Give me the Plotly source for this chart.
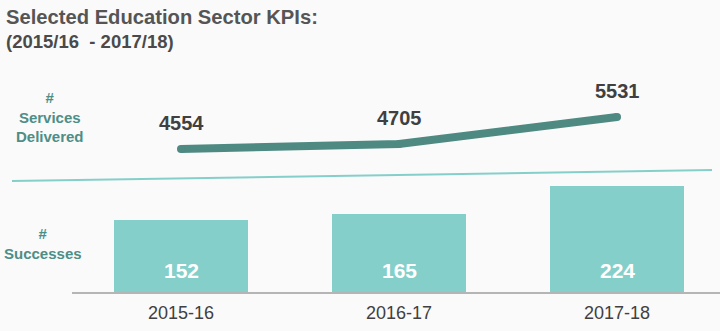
import plotly.graph_objects as go

categories = ["2015-16", "2016-17", "2017-18"]
services = [4554, 4705, 5531]
successes = [152, 165, 224]

BG = "#fafafa"
BAR = "#85cfca"
LINE = "#4e8a82"
LABEL = "#4d8e87"
DARK = "#404040"
FONT = "Liberation Sans, Arial, sans-serif"

fig = go.Figure()

fig.add_trace(go.Bar(
    x=categories, y=successes, width=0.615,
    marker=dict(color=BAR, line=dict(width=0)),
    hoverinfo="skip", showlegend=False,
))

fig.add_trace(go.Scatter(
    x=categories, y=services, yaxis="y2", mode="lines+markers",
    line=dict(color=LINE, width=8),
    marker=dict(color=LINE, size=8),
    hoverinfo="skip", showlegend=False,
))

annotations = []
for c, v in zip(categories, successes):
    annotations.append(dict(x=c, y=0, xref="x", yref="y", text=f"<b>{v}</b>",
                            showarrow=False, yanchor="middle", yshift=22,
                            font=dict(family=FONT, size=21, color="#ffffff")))
for c, v in zip(categories, services):
    annotations.append(dict(x=c, y=v, xref="x", yref="y2", text=f"<b>{v}</b>",
                            showarrow=False, yanchor="middle", yshift=26,
                            font=dict(family=FONT, size=20, color=DARK)))

W_PLOT = 648.0
H_PLOT = 292.0
L = 72

def px(x):
    return (x - L) / W_PLOT

def py(y):
    return (H_PLOT - y) / H_PLOT

annotations += [
    dict(x=px(4), y=py(17), xref="paper", yref="paper", xanchor="left", yanchor="middle",
         text="<b>Selected Education Sector KPIs:</b>", showarrow=False,
         font=dict(family=FONT, size=20.2, color="#555555")),
    dict(x=px(4), y=py(41), xref="paper", yref="paper", xanchor="left", yanchor="middle",
         text="<b>(2015/16  - 2017/18)</b>", showarrow=False,
         font=dict(family=FONT, size=18.5, color="#4a4a4a")),
    dict(x=px(50), y=py(117), xref="paper", yref="paper", xanchor="center", yanchor="middle",
         text="<b>#<br>Services<br>Delivered</b>", showarrow=False, align="center",
         font=dict(family=FONT, size=15, color=LABEL)),
    dict(x=px(43), y=py(243), xref="paper", yref="paper", xanchor="center", yanchor="middle",
         text="<b>#<br>Successes</b>", showarrow=False, align="center",
         font=dict(family=FONT, size=15, color=LABEL)),
]

fig.update_layout(
    width=720, height=331,
    margin=dict(l=L, r=0, t=0, b=39),
    paper_bgcolor=BG, plot_bgcolor=BG,
    font=dict(family=FONT, color=DARK),
    xaxis=dict(type="category", range=[-0.5, 2.4725], showgrid=False, zeroline=False,
               showline=True, linecolor="#b5b5b5", linewidth=2,
               ticks="outside", ticklen=3, tickcolor="rgba(0,0,0,0)",
               tickfont=dict(family=FONT, size=18, color=DARK)),
    yaxis=dict(range=[0, 616], visible=False, fixedrange=True),
    yaxis2=dict(range=[194, 9097], overlaying="y", visible=False),
    annotations=annotations,
    shapes=[dict(type="line", xref="paper", yref="paper",
                 x0=px(12), y0=py(181), x1=px(712), y1=py(170),
                 line=dict(color=BAR, width=2))],
    bargap=0,
)

fig.write_html("out.html")
